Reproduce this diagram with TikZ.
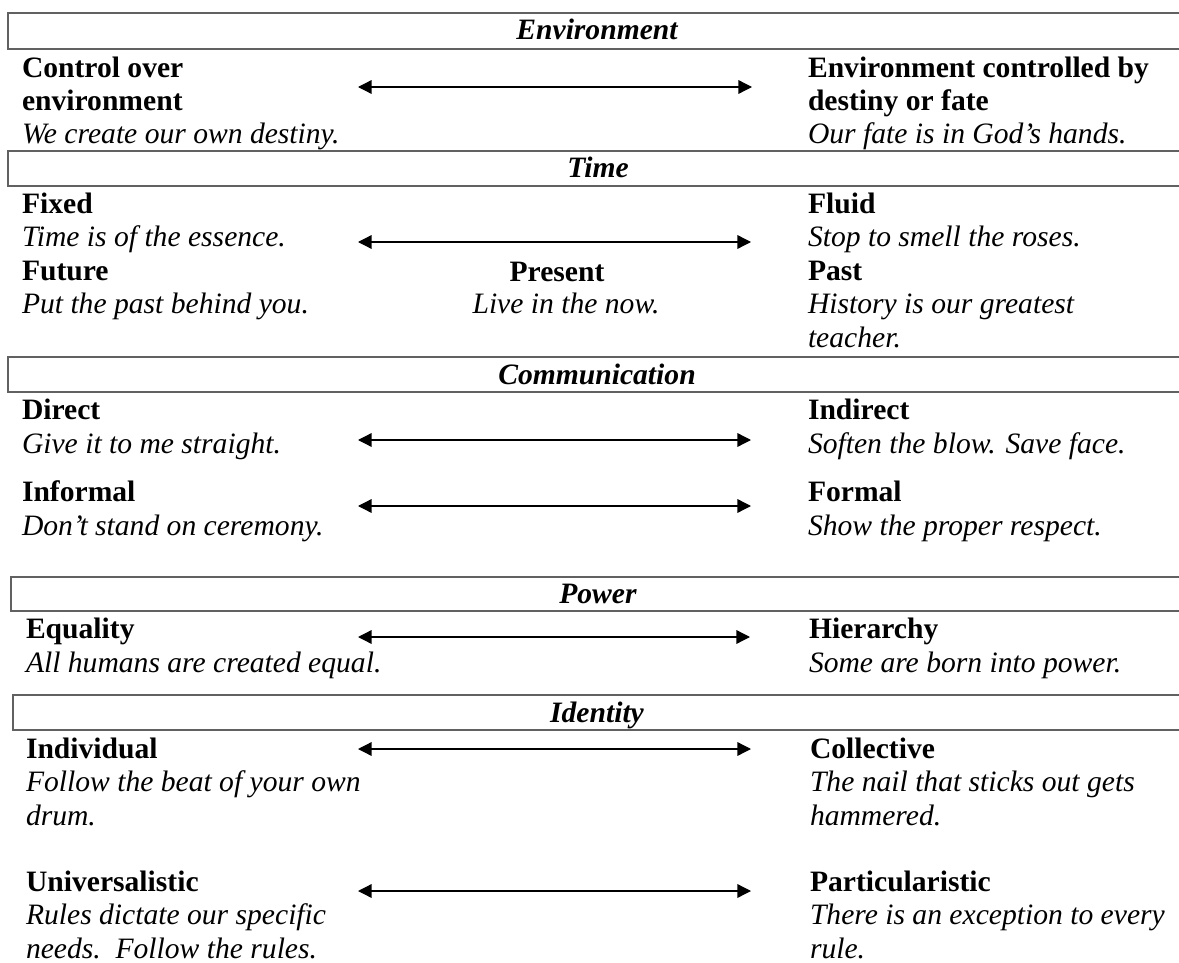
\documentclass[tikz,border=0pt]{standalone}
\usepackage{fontspec}
\setmainfont{Liberation Serif}
\usetikzlibrary{arrows.meta}
\begin{document}
\begin{tikzpicture}[x=0.5pt,y=-0.5pt,
  txt/.style={inner sep=0pt, outer sep=0pt, anchor=base west, align=left, font=\fontsize{14.8}{16.7}\selectfont},
  mid/.style={inner sep=0pt, outer sep=0pt, anchor=base, font=\fontsize{14.8}{16.7}\selectfont},
  hdr/.style={inner sep=0pt, outer sep=0pt, anchor=base, font=\fontsize{14.8}{16.7}\selectfont\bfseries\itshape},
  rulebox/.style={draw=black!62, line width=0.8pt},
  dbl/.style={{Triangle[length=6.8pt,width=6.8pt]}-{Triangle[length=6.8pt,width=6.8pt]}, line width=0.65pt}]
\useasboundingbox (0,0) rectangle (1179,963);

% (multi-line nodes are placed by the baseline of their last line)

% ---------- Environment ----------
\draw[rulebox] (1185,13) -- (8,13) -- (8,49) -- (1185,49);
\node[hdr] (hEnv) at (597,40) {Environment};
\node[txt] (envL) at (22,144) {\textbf{Control over}\\\textbf{environment}\\\textit{We create our own destiny.}};
\node[txt] (envR) at (808,144) {\textbf{Environment controlled by}\\\textbf{destiny or fate}\\\textit{Our fate is in God’s hands.}};
\coordinate (e1l) at (358,87);
\coordinate (e1r) at (752,87);
\draw[dbl] (e1l) -- (e1r);

% ---------- Time ----------
\draw[rulebox] (1185,151) -- (8,151) -- (8,186) -- (1185,186);
\node[hdr] (hTime) at (598,177) {Time};
\node[txt] (fixedL) at (22,247) {\textbf{Fixed}\\\textit{Time is of the essence.}};
\node[txt] (fluidR) at (808,247) {\textbf{Fluid}\\\textit{Stop to smell the roses.}};
\node[txt] (futureL) at (22,314) {\textbf{Future}\\\textit{Put the past behind you.}};
\node[mid] (presentM) at (557,281) {\textbf{Present}};
\node[mid] (presentD) at (566,314) {\textit{Live in the now.}};
\node[txt] (pastR) at (808,347) {\textbf{Past}\\\textit{History is our greatest}\\\textit{teacher.}};
\coordinate (t1l) at (358,242);
\coordinate (t1r) at (751,242);
\draw[dbl] (t1l) -- (t1r);

% ---------- Communication ----------
\draw[rulebox] (1185,357) -- (8,357) -- (8,392) -- (1185,392);
\node[hdr] (hComm) at (597,384) {Communication};
\node[txt] (directL) at (22,453) {\textbf{Direct}\\\textit{Give it to me straight.}};
\node[txt] (indirectR) at (808,453) {\textbf{Indirect}\\\textit{Soften the blow. Save face.}};
\node[txt] (informalL) at (22,535) {\textbf{Informal}\\\textit{Don’t stand on ceremony.}};
\node[txt] (formalR) at (808,535) {\textbf{Formal}\\\textit{Show the proper respect.}};
\coordinate (c1l) at (358,440);
\coordinate (c1r) at (751,440);
\draw[dbl] (c1l) -- (c1r);
\coordinate (c2l) at (358,506);
\coordinate (c2r) at (751,506);
\draw[dbl] (c2l) -- (c2r);

% ---------- Power ----------
\draw[rulebox] (1185,577) -- (11,577) -- (11,611) -- (1185,611);
\node[hdr] (hPower) at (598,603) {Power};
\node[txt] (equalL) at (26,672) {\textbf{Equality}\\\textit{All humans are created equal.}};
\node[txt] (hierR) at (809,672) {\textbf{Hierarchy}\\\textit{Some are born into power.}};
\coordinate (p1l) at (358,637);
\coordinate (p1r) at (750,637);
\draw[dbl] (p1l) -- (p1r);

% ---------- Identity ----------
\draw[rulebox] (1185,695) -- (13,695) -- (13,730) -- (1185,730);
\node[hdr] (hIdent) at (597,722) {Identity};
\node[txt] (indivL) at (26,825) {\textbf{Individual}\\\textit{Follow the beat of your own}\\\textit{drum.}};
\node[txt] (collR) at (810,825) {\textbf{Collective}\\\textit{The nail that sticks out gets}\\\textit{hammered.}};
\node[txt] (univL) at (26,958) {\textbf{Universalistic}\\\textit{Rules dictate our specific}\\\textit{needs.\ \ Follow the rules.}};
\node[txt] (partR) at (810,958) {\textbf{Particularistic}\\\textit{There is an exception to every}\\\textit{rule.}};
\coordinate (i1l) at (358,749);
\coordinate (i1r) at (751,749);
\draw[dbl] (i1l) -- (i1r);
\coordinate (i2l) at (358,891);
\coordinate (i2r) at (751,891);
\draw[dbl] (i2l) -- (i2r);
\end{tikzpicture}
\end{document}
